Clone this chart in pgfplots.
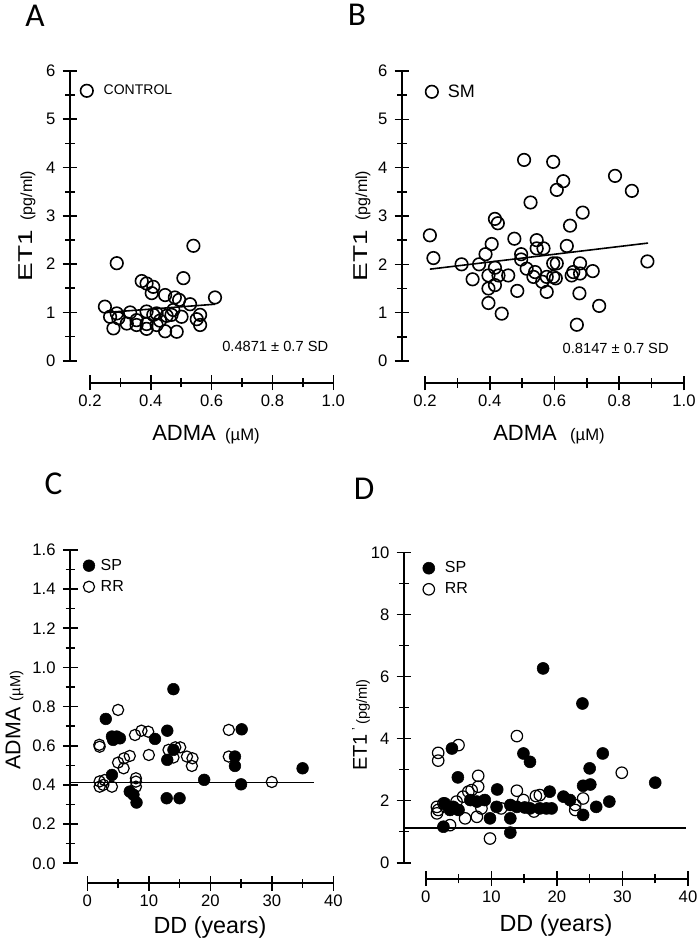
\documentclass[border=0pt]{standalone}
\usepackage{pgfplots}
\pgfplotsset{compat=1.18}
\usepackage{fontspec}
\setmainfont{Liberation Sans}
\newfontfamily\letterfont{Carlito}
\begin{document}
\begin{tikzpicture}
\pgfplotsset{
  panel/.style={
    scale only axis,
    axis lines=left,
    axis line style={-, line width=1.3pt},
    separate axis lines,
    tick align=center,
    major tick length=11pt,
    minor tick length=7pt,
    every tick/.append style={black, line width=1.2pt},
    tick label style={font=\fontsize{12.5}{12.5}\selectfont},
    yticklabel style={xshift=-2pt},
    /pgf/number format/assume math mode=true,
    clip=false,
    legend cell align=left,
    legend image code/.code={\draw[##1] plot coordinates {(0pt,0pt)};},
    minor tick num=1,
  },
}
% ---------------- A ----------------
\begin{axis}[panel, at={(67.5pt,438.2pt)}, anchor=south west,
  width=182.5pt, height=217.3pt,
  xmin=0.2, xmax=1.0, ymin=0, ymax=6,
  xtick={0.2,0.4,0.6,0.8,1.0}, ytick={0,1,2,3,4,5,6},
  xticklabel style={/pgf/number format/.cd, fixed, fixed zerofill, precision=1},
  axis x line shift=16.5pt, axis y line shift=15pt,
  legend style={at={(axis cs:0.168,5.59)}, anchor=west, draw=none, fill=none, inner sep=0pt,
    nodes={inner sep=0pt}, column sep=8pt, font=\fontsize{10.5}{12}\selectfont},
]
\addplot[only marks, mark=o, mark size=4.7pt, mark options={line width=1.2pt}] coordinates {
(0.288,2.02)(0.540,2.38)(0.507,1.71)(0.370,1.65)(0.386,1.60)(0.408,1.53)(0.403,1.40)
(0.447,1.36)(0.479,1.31)(0.493,1.26)(0.611,1.31)(0.249,1.12)(0.529,1.17)(0.474,1.05)
(0.386,1.02)(0.332,1.00)(0.288,0.98)(0.419,0.98)(0.452,0.93)(0.266,0.91)(0.293,0.88)
(0.562,0.95)(0.551,0.86)(0.501,0.91)(0.353,0.84)(0.430,0.83)(0.321,0.77)(0.386,0.76)
(0.419,0.74)(0.353,0.74)(0.562,0.74)(0.277,0.67)(0.386,0.66)(0.447,0.61)(0.485,0.60)
(0.408,0.95)(0.468,0.95)
};
\addlegendentry{CONTROL}
\addplot[black, line width=1.2pt, forget plot] coordinates {(0.255,1.00)(0.611,1.17)};
\node[font=\fontsize{11}{12}\selectfont] at (axis cs:0.809,0.29) {0.4871 ± 0.7 SD};
\end{axis}
% ---------------- B ----------------
\begin{axis}[panel, at={(318.75pt,438.0pt)}, anchor=south west,
  width=194.25pt, height=217.5pt,
  xmin=0.2, xmax=1.0, ymin=0, ymax=6,
  xtick={0.2,0.4,0.6,0.8,1.0}, ytick={0,1,2,3,4,5,6},
  xticklabel style={/pgf/number format/.cd, fixed, fixed zerofill, precision=1},
  axis x line shift=16.5pt, axis y line shift=17.25pt,
  legend style={at={(axis cs:0.201,5.57)}, anchor=west, draw=none, fill=none, inner sep=0pt,
    nodes={inner sep=0pt}, column sep=7.3pt, font=\fontsize{13.5}{14}\selectfont},
]
\addplot[only marks, mark=o, mark size=4.7pt, mark options={line width=1.2pt}] coordinates {
(0.506,4.16)(0.596,4.12)(0.627,3.72)(0.607,3.54)(0.787,3.83)(0.839,3.52)(0.526,3.28)
(0.687,3.07)(0.416,2.94)(0.425,2.85)(0.648,2.80)(0.215,2.60)(0.476,2.53)(0.406,2.42)
(0.638,2.38)(0.545,2.50)(0.545,2.33)(0.566,2.33)(0.226,2.13)(0.387,2.21)(0.313,2.00)
(0.367,2.00)(0.497,2.21)(0.497,2.10)(0.416,1.93)(0.514,1.91)(0.596,2.02)(0.607,2.02)
(0.679,2.02)(0.887,2.06)(0.347,1.69)(0.396,1.77)(0.427,1.77)(0.457,1.77)(0.535,1.74)
(0.540,1.84)(0.576,1.74)(0.658,1.84)(0.679,1.81)(0.718,1.86)(0.653,1.77)(0.596,1.74)
(0.416,1.57)(0.396,1.50)(0.485,1.45)(0.576,1.43)(0.677,1.40)(0.396,1.20)(0.738,1.14)
(0.437,0.98)(0.669,0.75)(0.562,1.64)(0.604,1.71)
};
\addlegendentry{SM}
\addplot[black, line width=1.2pt, forget plot] coordinates {(0.215,1.90)(0.889,2.44)};
\node[font=\fontsize{11}{12}\selectfont] at (axis cs:0.789,0.26) {0.8147 ± 0.7 SD};
\end{axis}
% ---------------- C ----------------
\begin{axis}[panel, at={(65.5pt,61.3pt)}, anchor=south west,
  width=184.5pt, height=235pt,
  xmin=0, xmax=40, ymin=0, ymax=1.6,
  xtick={0,10,20,30,40}, ytick={0,0.2,0.4,0.6,0.8,1.0,1.2,1.4,1.6},
  yticklabel style={/pgf/number format/.cd, fixed, fixed zerofill, precision=1},
  axis x line shift=15pt, axis y line shift=12.75pt,
  legend style={at={(axis cs:-0.73,1.466)}, anchor=west, draw=none, fill=none, inner sep=0pt,
    nodes={inner sep=0pt}, column sep=4.4pt, row sep=6pt, font=\fontsize{12}{12}\selectfont},
]
\addplot[only marks, mark=*, mark size=4.4pt, mark options={fill=black, draw=black}] coordinates {
(14.0,0.889)(3.0,0.737)(4.0,0.647)(4.8,0.647)(5.3,0.638)(4.2,0.63)(13.0,0.677)(11.0,0.635)
(14.0,0.579)(13.0,0.528)(4.0,0.451)(19.0,0.426)(6.9,0.366)(7.5,0.35)(8.0,0.31)(12.9,0.332)
(15.0,0.332)(25.1,0.684)(24.0,0.545)(24.0,0.497)(35.0,0.485)(25.0,0.403)
};
\addlegendentry{SP}
\addplot[only marks, mark=o, mark size=4.2pt, mark options={line width=0.9pt}] coordinates {
(5.0,0.783)(1.95,0.605)(2.0,0.595)(7.75,0.655)(8.8,0.677)(9.9,0.672)(10.0,0.553)(6.9,0.548)
(5.96,0.536)(5.0,0.514)(5.9,0.485)(13.2,0.579)(14.3,0.592)(15.1,0.592)(16.2,0.545)(17.1,0.536)
(17.0,0.497)(2.0,0.418)(2.0,0.391)(2.6,0.40)(4.0,0.391)(7.9,0.434)(7.9,0.417)(7.9,0.391)
(23.0,0.681)(23.0,0.545)(30.0,0.415)(2.8,0.425)(14.0,0.54)
};
\addlegendentry{RR}
\addplot[black, line width=1.2pt, forget plot] coordinates {(-2.9,0.412)(36.9,0.412)};
\end{axis}
% ---------------- D ----------------
\begin{axis}[panel, at={(319.3pt,61.7pt)}, anchor=south west,
  width=196.7pt, height=232.8pt,
  xmin=0, xmax=40, ymin=0, ymax=10,
  xtick={0,10,20,30,40}, ytick={0,2,4,6,8,10},
  axis x line shift=12pt, axis y line shift=16.3pt,
  legend style={at={(axis cs:-0.49,9.15)}, anchor=west, draw=none, fill=none, inner sep=0pt,
    nodes={inner sep=0pt}, column sep=7.6pt, row sep=6pt, font=\fontsize{12}{12}\selectfont},
]
\addplot[only marks, mark=*, mark size=4.5pt, mark options={fill=black, draw=black}] coordinates {
(17.9,6.26)(23.9,5.13)(27.0,3.52)(25.0,3.04)(35.0,2.58)(24.0,2.48)(25.1,2.52)(18.9,2.29)
(21.0,2.13)(22.0,2.02)(28.0,1.97)(26.0,1.80)(24.0,1.54)(18.4,1.75)(19.2,1.75)(17.4,1.75)
(4.0,3.68)(14.9,3.52)(15.9,3.25)(4.9,2.75)(10.9,2.36)(6.8,2.02)(7.8,1.97)(9.0,2.02)
(10.8,1.80)(12.9,1.86)(13.9,1.80)(15.1,1.78)(15.9,1.75)(2.9,1.91)(4.2,1.80)(5.0,1.70)
(3.7,1.70)(9.8,1.43)(12.9,1.43)(2.7,1.16)(12.9,0.97)
};
\addlegendentry{SP}
\addplot[only marks, mark=o, mark size=4.3pt, mark options={line width=0.9pt}] coordinates {
(13.9,4.08)(5.0,3.79)(1.9,3.54)(1.9,3.29)(8.0,2.80)(8.0,2.45)(7.0,2.34)(6.5,2.29)
(13.9,2.32)(16.8,2.15)(5.7,2.13)(14.9,2.02)(1.7,1.80)(1.9,1.70)(1.7,1.59)(2.7,1.91)
(6.0,1.43)(7.8,1.48)(3.7,1.21)(9.8,0.78)(4.7,1.97)(29.9,2.90)(24.0,2.07)(22.8,1.86)
(22.8,1.70)(17.4,2.18)(8.5,1.75)(11.5,1.75)(16.5,1.65)
};
\addlegendentry{RR}
\addplot[black, line width=1.2pt, forget plot] coordinates {(-3.3,1.11)(39.7,1.11)};
\end{axis}
% ---------------- labels ----------------
\node[font=\letterfont\fontsize{25}{25}\selectfont] at (26.25pt,696.75pt) {A};
\node[font=\letterfont\fontsize{25}{25}\selectfont] at (267.75pt,697.5pt) {B};
\node[font=\letterfont\fontsize{25}{25}\selectfont] at (40.1pt,345.75pt) {C};
\node[font=\letterfont\fontsize{25}{25}\selectfont] at (273pt,342pt) {D};
\node[rotate=90] at (20.25pt,539.25pt) {\fontsize{15}{15}\selectfont\scalebox{1.4}[1]{ET1}\hspace{7pt}\fontsize{12}{12}\selectfont(pg/ml)};
\node[rotate=90] at (271.5pt,539.25pt) {\fontsize{15}{15}\selectfont\scalebox{1.4}[1]{ET1}\hspace{7pt}\fontsize{12}{12}\selectfont(pg/ml)};
\node[rotate=90] at (10.9pt,168.75pt) {\fontsize{16}{16}\selectfont ADMA\hspace{5pt}\fontsize{11}{12}\selectfont(µM)};
\node[rotate=90] at (270.75pt,165pt) {\fontsize{15}{15}\selectfont ET1\hspace{3pt}\fontsize{9}{9}\selectfont\raisebox{5pt}{'}\hspace{2pt}\fontsize{11}{12}\selectfont(pg/ml)};
\node at (154.5pt,382.5pt) {\fontsize{16.5}{16.5}\selectfont ADMA\hspace{7pt}\fontsize{12.5}{12.5}\selectfont(µM)};
\node at (411.75pt,382.5pt) {\fontsize{16.5}{16.5}\selectfont ADMA\hspace{10pt}\fontsize{12.5}{12.5}\selectfont(µM)};
\node at (157.5pt,13.5pt) {\fontsize{17.5}{17.5}\selectfont DD (years)};
\node at (417pt,15pt) {\fontsize{17.5}{17.5}\selectfont DD (years)};
\pgfresetboundingbox
\path[use as bounding box] (0pt,0pt) rectangle (523.5pt,708.75pt);
\end{tikzpicture}
\end{document}
